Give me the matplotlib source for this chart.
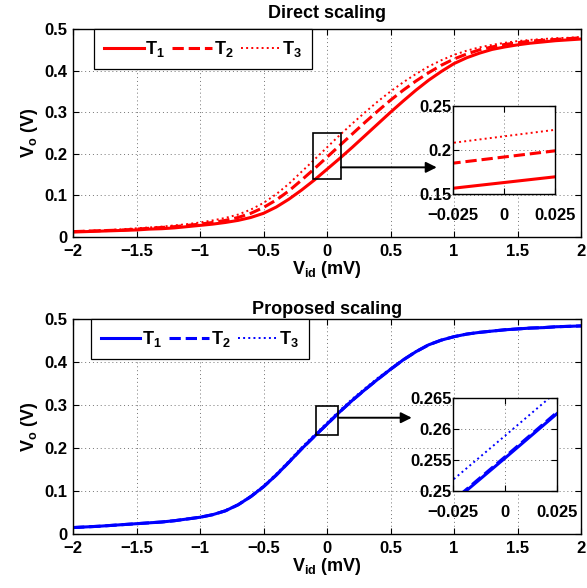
import matplotlib
matplotlib.use("Agg")
import matplotlib.pyplot as plt
from matplotlib.patches import Rectangle

# =============================================================================
# Data
# =============================================================================

vid = [-2.0, -1.9, -1.8, -1.7, -1.6, -1.5, -1.4, -1.3, -1.2, -1.1, -1.0,
       -0.9, -0.8, -0.7, -0.6, -0.5, -0.4, -0.3, -0.2, -0.1, 0.0,
       0.1, 0.2, 0.3, 0.4, 0.5, 0.6, 0.7, 0.8, 0.9, 1.0,
       1.1, 1.2, 1.3, 1.4, 1.5, 1.6, 1.7, 1.8, 1.9, 2.0]

# Direct scaling
direct_t1 = [0.012, 0.013, 0.014, 0.015, 0.016, 0.017, 0.019, 0.020, 0.022,
             0.025, 0.028, 0.031, 0.035, 0.040, 0.047, 0.057, 0.072, 0.091,
             0.113, 0.137, 0.163, 0.189, 0.216, 0.244, 0.272, 0.300, 0.327,
             0.353, 0.377, 0.398, 0.417, 0.431, 0.442, 0.451, 0.457, 0.462,
             0.466, 0.469, 0.472, 0.474, 0.476]
direct_t2 = [0.013, 0.014, 0.015, 0.016, 0.017, 0.019, 0.021, 0.023, 0.025,
             0.028, 0.031, 0.035, 0.040, 0.047, 0.057, 0.071, 0.089, 0.111,
             0.137, 0.164, 0.192, 0.220, 0.248, 0.276, 0.303, 0.329, 0.353,
             0.375, 0.395, 0.413, 0.428, 0.440, 0.450, 0.457, 0.463, 0.467,
             0.471, 0.473, 0.475, 0.477, 0.479]
direct_t3 = [0.014, 0.015, 0.016, 0.017, 0.019, 0.021, 0.023, 0.025, 0.028,
             0.031, 0.035, 0.040, 0.046, 0.054, 0.066, 0.082, 0.103, 0.128,
             0.157, 0.186, 0.2155, 0.245, 0.273, 0.300, 0.326, 0.350, 0.372,
             0.392, 0.410, 0.425, 0.438, 0.448, 0.456, 0.462, 0.467, 0.471,
             0.474, 0.476, 0.478, 0.479, 0.481]

# Proposed scaling
proposed_t1 = [0.015, 0.0165, 0.018, 0.020, 0.022, 0.024, 0.026, 0.028,
               0.031, 0.035, 0.039, 0.045, 0.054, 0.068, 0.087, 0.110, 0.137,
               0.167, 0.198, 0.227, 0.2553, 0.284, 0.311, 0.336, 0.360, 0.383,
               0.405, 0.424, 0.440, 0.451, 0.459, 0.465, 0.469, 0.472, 0.475,
               0.477, 0.479, 0.480, 0.482, 0.483, 0.484]
proposed_t2 = [0.015, 0.0165, 0.018, 0.020, 0.022, 0.024, 0.026, 0.028,
               0.031, 0.035, 0.039, 0.045, 0.054, 0.068, 0.087, 0.110, 0.137,
               0.167, 0.198, 0.2272, 0.2555, 0.2842, 0.311, 0.336, 0.360,
               0.383, 0.405, 0.424, 0.440, 0.451, 0.459, 0.465, 0.469, 0.472,
               0.475, 0.477, 0.479, 0.480, 0.482, 0.483, 0.484]
proposed_t3 = [0.015, 0.0165, 0.018, 0.020, 0.022, 0.024, 0.026, 0.028,
               0.031, 0.035, 0.039, 0.045, 0.055, 0.069, 0.089, 0.112, 0.140,
               0.170, 0.2015, 0.2305, 0.2589, 0.2875, 0.3145, 0.339, 0.363,
               0.385, 0.406, 0.425, 0.440, 0.451, 0.459, 0.465, 0.469, 0.472,
               0.475, 0.477, 0.479, 0.480, 0.482, 0.483, 0.484]

labels = ["T$_1$", "T$_2$", "T$_3$"]
styles = ["-", "--", ":"]

main_xticks = [-2, -1.5, -1, -0.5, 0, 0.5, 1, 1.5, 2]
main_xlabels = ["\u22122", "\u22121.5", "\u22121", "\u22120.5", "0",
                "0.5", "1", "1.5", "2"]
main_yticks = [0, 0.1, 0.2, 0.3, 0.4, 0.5]
main_ylabels = ["0", "0.1", "0.2", "0.3", "0.4", "0.5"]
inset_xticks = [-0.025, 0, 0.025]
inset_xlabels = ["\u22120.025", "0", "0.025"]
direct_inset_yticks = [0.15, 0.2, 0.25]
direct_inset_ylabels = ["0.15", "0.2", "0.25"]
proposed_inset_yticks = [0.25, 0.255, 0.26, 0.265]
proposed_inset_ylabels = ["0.25", "0.255", "0.26", "0.265"]

# =============================================================================
# Style
# =============================================================================

plt.rcParams["font.family"] = ["Liberation Sans", "DejaVu Sans"]
plt.rcParams["font.weight"] = "bold"
plt.rcParams["mathtext.fontset"] = "custom"
plt.rcParams["mathtext.rm"] = "Liberation Sans:bold"
plt.rcParams["mathtext.it"] = "Liberation Sans:bold"
plt.rcParams["mathtext.bf"] = "Liberation Sans:bold"
plt.rcParams["axes.linewidth"] = 1.0

TICK_SIZE = 12
LABEL_SIZE = 13


def style_axes(ax, xticks, xlabels, yticks, ylabels, pad_x, pad_y):
    ax.set_xticks(xticks)
    ax.set_yticks(yticks)
    ax.set_xticklabels(xlabels, fontweight="bold", fontsize=TICK_SIZE)
    ax.set_yticklabels(ylabels, fontweight="bold", fontsize=TICK_SIZE)
    ax.tick_params(direction="in", top=True, right=True, length=4,
                   width=0.8)
    ax.tick_params(axis="x", pad=pad_x)
    ax.tick_params(axis="y", pad=pad_y)
    ax.grid(True, color="0.45", linestyle=(0, (1, 3)), linewidth=0.7)


def plot_series(ax, series, color):
    widths = [2.2, 2.2, 1.4]
    for ys, ls, lw, lab in zip(series, styles, widths, labels):
        ax.plot(vid, ys, color=color, linestyle=ls, linewidth=lw, label=lab)


fig = plt.figure(figsize=(5.87, 5.88), dpi=100)

panels = [
    {
        "title": "Direct scaling",
        "title_pad": 8,
        "series": [direct_t1, direct_t2, direct_t3],
        "color": "#ff0000",
        "main_pos": [0.1244, 0.5969, 0.8654, 0.3537],
        "inset_pos": [0.7717, 0.6701, 0.1738, 0.1497],
        "inset_ylim": (0.15, 0.25),
        "inset_yticks": direct_inset_yticks,
        "inset_ylabels": direct_inset_ylabels,
        "rect": (-0.11, 0.14, 0.22, 0.11),
        "arrow_y": 0.1675,
        "arrow_x1": 0.864,
        "legend_x": 0.041,
    },
    {
        "title": "Proposed scaling",
        "title_pad": 3.5,
        "series": [proposed_t1, proposed_t2, proposed_t3],
        "color": "#0000ff",
        "main_pos": [0.1244, 0.0918, 0.8654, 0.3656],
        "inset_pos": [0.7717, 0.1650, 0.1772, 0.1582],
        "inset_ylim": (0.25, 0.265),
        "inset_yticks": proposed_inset_yticks,
        "inset_ylabels": proposed_inset_ylabels,
        "rect": (-0.09, 0.23, 0.18, 0.068),
        "arrow_y": 0.2705,
        "arrow_x1": 0.667,
        "legend_x": 0.035,
    },
]

for p in panels:

    # -------------------------------------------------------------------------
    # Main axes
    # -------------------------------------------------------------------------
    ax = fig.add_axes(p["main_pos"])
    plot_series(ax, p["series"], p["color"])
    ax.set_xlim(-2, 2)
    ax.set_ylim(0, 0.5)
    style_axes(ax, main_xticks, main_xlabels, main_yticks, main_ylabels,
               pad_x=5, pad_y=4)
    ax.set_title(p["title"], fontsize=LABEL_SIZE, fontweight="bold",
                 pad=p["title_pad"])
    ax.set_xlabel("V$_{\\mathrm{id}}$ (mV)", fontsize=LABEL_SIZE,
                  fontweight="bold", labelpad=0)
    ax.set_ylabel("V$_{\\mathrm{o}}$ (V)", fontsize=LABEL_SIZE,
                  fontweight="bold", labelpad=3)

    leg = ax.legend(loc="upper left", bbox_to_anchor=(p["legend_x"], 1.0),
                    borderaxespad=0, ncol=3, fancybox=False, framealpha=1,
                    edgecolor="black", handlelength=2.2, handletextpad=0.1,
                    columnspacing=0.4, borderpad=0.55,
                    prop={"weight": "bold", "size": LABEL_SIZE})
    leg.get_frame().set_linewidth(0.9)

    rx, ry, rw, rh = p["rect"]
    ax.add_patch(Rectangle((rx, ry), rw, rh, fill=False, edgecolor="black",
                           linewidth=1.2, zorder=5))
    ax.annotate("", xy=(p["arrow_x1"], p["arrow_y"]),
                xytext=(rx + rw, p["arrow_y"]),
                arrowprops=dict(arrowstyle="-|>", color="black", lw=1.4,
                                mutation_scale=16, shrinkA=0, shrinkB=0),
                zorder=5)

    # -------------------------------------------------------------------------
    # Inset
    # -------------------------------------------------------------------------
    ins = fig.add_axes(p["inset_pos"])
    plot_series(ins, p["series"], p["color"])
    ins.set_xlim(-0.025, 0.025)
    ins.set_ylim(*p["inset_ylim"])
    style_axes(ins, inset_xticks, inset_xlabels, p["inset_yticks"],
               p["inset_ylabels"], pad_x=10, pad_y=1)

fig.savefig("out.png", dpi=100)
